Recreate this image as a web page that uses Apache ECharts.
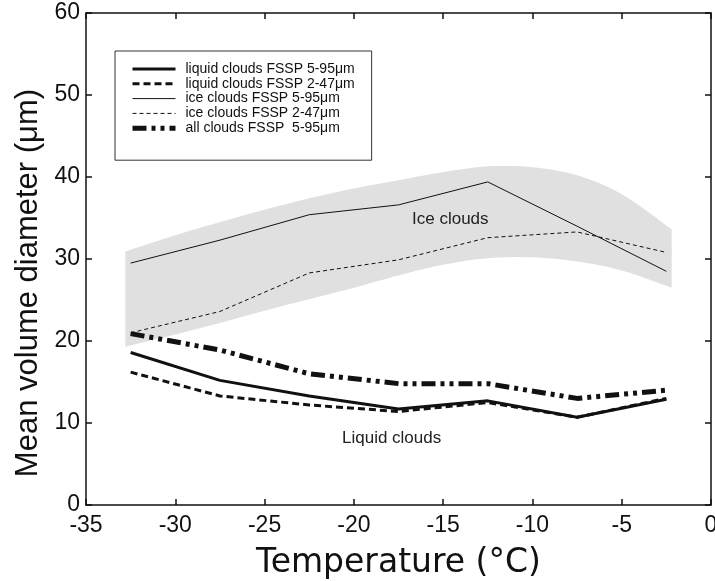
<!DOCTYPE html>
<html>
<head>
<meta charset="utf-8">
<script src="https://cdn.jsdelivr.net/npm/echarts@6/dist/echarts.min.js"></script>
<style>
html, body { margin: 0; padding: 0; background: #fff; }
#main { width: 715px; height: 581px; }
</style>
</head>
<body>
<div id="main"></div>
<script>
var temps = [-32.5, -27.5, -22.5, -17.5, -12.5, -7.5, -2.5];
var liquid595 = [18.6, 15.2, 13.3, 11.7, 12.7, 10.7, 12.9];
var liquid247 = [16.2, 13.3, 12.2, 11.4, 12.5, 10.7, 13.0];
var ice595 = [29.5, 32.3, 35.4, 36.6, 39.4, 34.0, 28.5];
var ice247 = [21.0, 23.6, 28.3, 29.9, 32.6, 33.3, 30.8];
var all595 = [20.9, 18.9, 16.0, 14.8, 14.8, 13.0, 14.0];

// grey envelope of the ice clouds
var bandT = [-32.8, -30, -27.5, -25, -22.5, -20, -17.5, -15, -12.5, -10, -7.5, -5, -2.2];
var bandLow = [19.3, 20.8, 22.2, 23.7, 25.1, 26.5, 28.0, 29.3, 30.1, 30.2, 29.7, 28.6, 26.5];
var bandHigh = [30.9, 32.9, 34.5, 36.0, 37.4, 38.6, 39.6, 40.6, 41.3, 41.2, 40.2, 37.9, 33.6];

var xTicks = [-35, 0, 5];
var yTicks = [0, 60, 10];

function pairs(xs, ys) {
    return xs.map(function (x, i) { return [x, ys[i]]; });
}

// catmull-rom through pixel points so the band edges are smooth
function spline(pts) {
    var out = [], n = pts.length, steps = 8;
    for (var i = 0; i < n - 1; i++) {
        var p0 = pts[Math.max(i - 1, 0)], p1 = pts[i], p2 = pts[i + 1], p3 = pts[Math.min(i + 2, n - 1)];
        for (var s = 0; s < steps; s++) {
            var t = s / steps, t2 = t * t, t3 = t2 * t;
            var pt = [0, 1].map(function (k) {
                return 0.5 * (2 * p1[k] + (-p0[k] + p2[k]) * t +
                    (2 * p0[k] - 5 * p1[k] + 4 * p2[k] - p3[k]) * t2 +
                    (-p0[k] + 3 * p1[k] - 3 * p2[k] + p3[k]) * t3);
            });
            out.push(pt);
        }
    }
    out.push(pts[n - 1]);
    return out;
}

var font = 'Liberation Sans, Arial, sans-serif';
var ink = '#111';

var myChart = echarts.init(document.getElementById('main'));
option = {
    animation: false,
    backgroundColor: '#fff',
    grid: { left: 86, right: 4, top: 13, bottom: 76, containLabel: false, outerBoundsMode: 'none' },
    legend: {
        data: ['liquid clouds FSSP 5-95μm', 'liquid clouds FSSP 2-47μm',
               'ice clouds FSSP 5-95μm', 'ice clouds FSSP 2-47μm',
               'all clouds FSSP  5-95μm'],
        orient: 'vertical',
        left: 115,
        top: 51,
        padding: [11, 17, 25, 15],
        borderColor: '#333',
        borderWidth: 1,
        itemWidth: 43,
        itemHeight: 12,
        itemGap: 0.8,
        itemStyle: { opacity: 0 },
        lineStyle: { width: 'inherit' },
        textStyle: { fontFamily: font, fontSize: 14, lineHeight: 14, color: ink, padding: [0, 0, 0, 5] }
    },
    graphic: [
        { type: 'text', z: 100, left: 412, top: 211, style: { text: 'Ice clouds', font: '17px ' + font, fill: '#222' } },
        { type: 'text', z: 100, left: 342, top: 430, style: { text: 'Liquid clouds', font: '17px ' + font, fill: '#222' } }
    ],
    xAxis: [
        {
            type: 'value', min: xTicks[0], max: xTicks[1], interval: xTicks[2],
            name: 'Temperature (°C)', nameLocation: 'middle', nameGap: 42,
            nameTextStyle: { fontFamily: 'DejaVu Sans, sans-serif', fontSize: 33, color: ink },
            axisLine: { onZero: false, lineStyle: { color: ink, width: 1.5 } },
            axisTick: { inside: true, length: 6, lineStyle: { color: ink, width: 1.5 } },
            axisLabel: { fontFamily: font, fontSize: 23, color: ink, margin: 9 },
            splitLine: { show: false }
        },
        {
            type: 'value', position: 'top', min: xTicks[0], max: xTicks[1], interval: xTicks[2],
            axisLine: { onZero: false, lineStyle: { color: ink, width: 1.5 } },
            axisTick: { inside: true, length: 6, lineStyle: { color: ink, width: 1.5 } },
            axisLabel: { show: false },
            splitLine: { show: false }
        }
    ],
    yAxis: [
        {
            type: 'value', min: yTicks[0], max: yTicks[1], interval: yTicks[2],
            name: 'Mean volume diameter (μm)', nameLocation: 'middle', nameGap: 41,
            nameTextStyle: { fontFamily: font, fontSize: 31, color: ink, padding: [0, 48, 0, 0] },
            axisLine: { show: true, onZero: false, lineStyle: { color: ink, width: 1.5 } },
            axisTick: { show: true, inside: true, length: 6, lineStyle: { color: ink, width: 1.5 } },
            axisLabel: { fontFamily: font, fontSize: 23, color: ink, margin: 6 },
            splitLine: { show: false }
        },
        {
            type: 'value', position: 'right', min: yTicks[0], max: yTicks[1], interval: yTicks[2],
            axisLine: { show: true, onZero: false, lineStyle: { color: ink, width: 1.5 } },
            axisTick: { show: true, inside: true, length: 6, lineStyle: { color: ink, width: 1.5 } },
            axisLabel: { show: false },
            splitLine: { show: false }
        }
    ],
    series: [
        {
            name: 'band', type: 'custom', silent: true, z: 1,
            data: pairs(bandT, bandLow),
            renderItem: function (params, api) {
                if (params.dataIndex !== 0) return;
                var up = spline(bandT.map(function (t, i) { return api.coord([t, bandHigh[i]]); }));
                var lo = spline(bandT.map(function (t, i) { return api.coord([t, bandLow[i]]); }));
                return {
                    type: 'polygon',
                    shape: { points: up.concat(lo.reverse()) },
                    style: { fill: '#e0e0e0' }
                };
            }
        },
        {
            name: 'liquid clouds FSSP 5-95μm', type: 'line', symbol: 'none',
            lineStyle: { color: ink, width: 3 },
            itemStyle: { color: ink },
            data: pairs(temps, liquid595)
        },
        {
            name: 'liquid clouds FSSP 2-47μm', type: 'line', symbol: 'none',
            lineStyle: { color: ink, width: 3, type: [7, 4] },
            itemStyle: { color: ink },
            data: pairs(temps, liquid247)
        },
        {
            name: 'ice clouds FSSP 5-95μm', type: 'line', symbol: 'none',
            lineStyle: { color: ink, width: 1 },
            itemStyle: { color: ink },
            data: pairs(temps, ice595)
        },
        {
            name: 'ice clouds FSSP 2-47μm', type: 'line', symbol: 'none',
            lineStyle: { color: ink, width: 1, type: [4, 3] },
            itemStyle: { color: ink },
            data: pairs(temps, ice247)
        },
        {
            name: 'all clouds FSSP  5-95μm', type: 'line', symbol: 'none',
            lineStyle: { color: ink, width: 5, type: [14, 5, 4, 5, 4, 5] },
            itemStyle: { color: ink },
            data: pairs(temps, all595)
        }
    ]
};

myChart.setOption(option);
window.onresize = myChart.resize;
</script>
</body>
</html>
